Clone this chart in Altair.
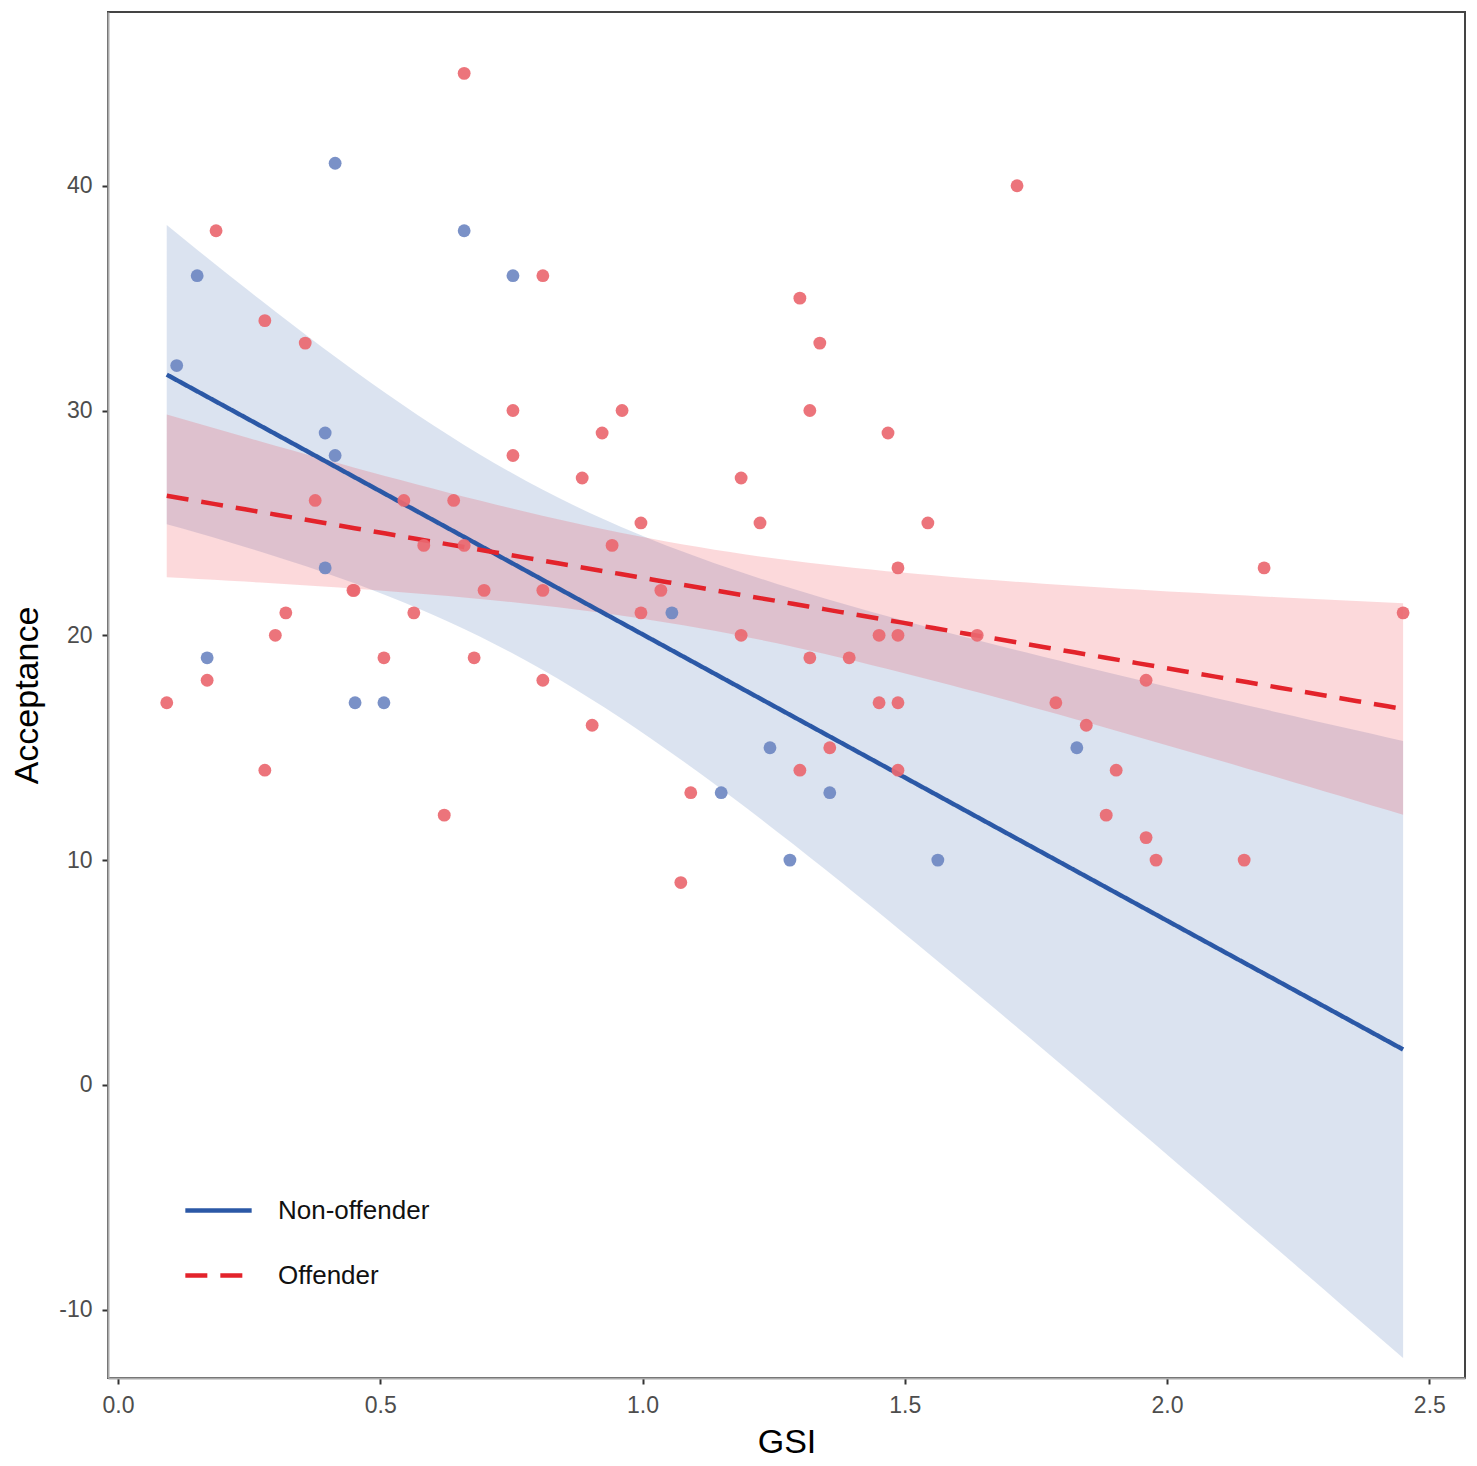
import altair as alt
import numpy as np
import pandas as pd

# ---- data ----
gsi_non = [0.112, 0.151, 0.170, 0.395, 0.395, 0.414, 0.414, 0.452, 0.507, 0.660,
           0.753, 1.056, 1.150, 1.243, 1.281, 1.357, 1.563, 1.828]
acc_non = [32, 36, 19, 29, 23, 41, 28, 17, 17, 38, 36, 21, 13, 15, 10, 13, 10, 15]

gsi_off = [0.093, 0.187, 0.170, 0.280, 0.280, 0.300, 0.320, 0.357, 0.376, 0.448,
           0.450, 0.507, 0.545, 0.564, 0.583, 0.622, 0.640, 0.660, 0.660, 0.679,
           0.698, 0.753, 0.753, 0.810, 0.810, 0.810, 0.885, 0.904, 0.923, 0.942,
           0.961, 0.997, 0.997, 1.035, 1.073, 1.092, 1.188, 1.188, 1.224, 1.300,
           1.300, 1.319, 1.319, 1.338, 1.357, 1.394, 1.451, 1.451, 1.468, 1.487,
           1.487, 1.487, 1.487, 1.544, 1.638, 1.714, 1.788, 1.846, 1.884, 1.903,
           1.960, 1.960, 1.979, 2.147, 2.185, 2.450]
acc_off = [17, 38, 18, 34, 14, 20, 21, 33, 26, 22, 22, 19, 26, 21, 24, 12, 26, 45, 24, 19,
           22, 30, 28, 36, 22, 18, 27, 16, 29, 24, 30, 25, 21, 22, 9, 13, 27, 20, 25, 35,
           14, 30, 19, 33, 15, 19, 20, 17, 29, 23, 20, 17, 14, 25, 20, 40, 17, 16, 12, 14,
           18, 11, 10, 10, 23, 21]

groups = ["Non-offender", "Offender"]
line_colors = ["#2b58a6", "#e3232b"]
point_colors = ["#6f88c2", "#ea6870"]
band_colors = ["#2c5aa8", "#f0202a"]
x_ticks = [0, 0.5, 1.0, 1.5, 2.0, 2.5]
y_ticks = [-10, 0, 10, 20, 30, 40]


def t975(df):
    z = 1.959964
    return (z + (z**3 + z) / (4 * df) + (5 * z**5 + 16 * z**3 + 3 * z) / (96 * df**2)
            + (3 * z**7 + 19 * z**5 + 17 * z**3 - 15 * z) / (384 * df**3))


def lm_band(x, y, grid):
    x = np.asarray(x, float)
    y = np.asarray(y, float)
    n = len(x)
    b, a = np.polyfit(x, y, 1)
    res = y - (a + b * x)
    s2 = (res ** 2).sum() / (n - 2)
    xm = x.mean()
    sxx = ((x - xm) ** 2).sum()
    fit = a + b * grid
    se = np.sqrt(s2 * (1.0 / n + (grid - xm) ** 2 / sxx))
    t = t975(n - 2)
    return fit, fit - t * se, fit + t * se


all_x = gsi_non + gsi_off
grid = np.linspace(min(all_x), max(all_x), 80)

pts = pd.concat([
    pd.DataFrame({"GSI": gsi_non, "Acceptance": acc_non, "group": groups[0]}),
    pd.DataFrame({"GSI": gsi_off, "Acceptance": acc_off, "group": groups[1]}),
])

fits = []
for g, (xs, ys) in zip(groups, [(gsi_non, acc_non), (gsi_off, acc_off)]):
    f, lo, hi = lm_band(xs, ys, grid)
    fits.append(pd.DataFrame({"GSI": grid, "fit": f, "lo": lo, "hi": hi, "group": g}))
fitdf = pd.concat(fits)

xscale = alt.Scale(domain=[-0.019, 2.568], nice=False, zero=False)
yscale = alt.Scale(domain=[-13.04, 47.73], nice=False, zero=False)

xaxis = alt.Axis(title="GSI", values=x_ticks, format=".1f",
                 titleY=64, titleBaseline="middle")
yaxis = alt.Axis(title="Acceptance", values=y_ticks, labelExpr="'' + datum.value",
                 titleX=-81, titleY=683, titleAngle=270, titleAlign="center",
                 titleBaseline="middle")

layers = []
for g, bc in zip(groups, band_colors):
    layers.append(
        alt.Chart(fitdf).transform_filter(alt.datum.group == g).mark_area(
            color=bc, opacity=0.17
        ).encode(
            x=alt.X("GSI:Q", scale=xscale, axis=xaxis),
            y=alt.Y("lo:Q", scale=yscale, axis=yaxis),
            y2="hi:Q",
        )
    )

legend = alt.Legend(
    title=None, orient="none", legendX=75, legendY=1163, padding=0,
    symbolType="stroke", symbolSize=4400, symbolStrokeWidth=4.5,
    labelFontSize=26, labelFont="Liberation Sans", labelColor="#111111",
    labelOffset=24, rowPadding=16,
)
lines = alt.Chart(fitdf).mark_line(strokeWidth=4.5).encode(
    x=alt.X("GSI:Q", scale=xscale),
    y=alt.Y("fit:Q", scale=yscale),
    color=alt.Color("group:N", scale=alt.Scale(domain=groups, range=line_colors), legend=legend),
    strokeDash=alt.StrokeDash("group:N", scale=alt.Scale(domain=groups, range=[[1, 0], [22, 13]]),
                              legend=legend),
)
layers.append(lines)

for g, pc in zip(groups, point_colors):
    layers.append(
        alt.Chart(pts).transform_filter(alt.datum.group == g).mark_circle(
            size=165, color=pc, opacity=0.92
        ).encode(
            x=alt.X("GSI:Q", scale=xscale),
            y=alt.Y("Acceptance:Q", scale=yscale),
        )
    )

chart = alt.layer(*layers).properties(
    width=1357, height=1366,
    autosize=alt.AutoSizeParams(type="none"),
    padding={"left": 100, "top": 4, "right": 4, "bottom": 80},
).configure_view(
    stroke="#444444", strokeWidth=2
).configure_axis(
    grid=False, domainColor="#aaaaaa", domainWidth=2,
    tickColor="#333333", tickSize=6, tickWidth=2,
    labelFont="Liberation Sans", labelFontSize=23, labelColor="#4d4d4d",
    labelPadding=10,
    titleFont="Liberation Sans", titleFontSize=34, titleColor="#000000",
    titleFontWeight="normal",
)

chart.save("out.html", embed_options={"renderer": "svg", "actions": False})
